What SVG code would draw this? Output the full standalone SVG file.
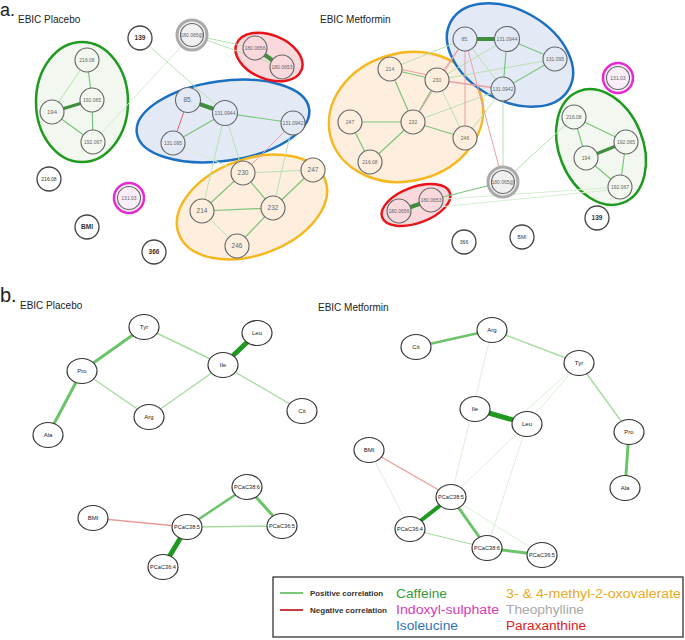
<svg xmlns="http://www.w3.org/2000/svg" width="685" height="640" viewBox="0 0 685 640">
<defs>
<style>
text{font-family:"Liberation Sans",Arial,sans-serif}
.hd{font-size:18px;fill:#222}
.ti{font-size:10px;fill:#222}
.n circle{fill:none;stroke:#666;stroke-width:1.1}
.n.cg circle{fill:#f2f8f0}
.n.cb circle{fill:#e3eaf6}
.n.co circle{fill:#fdeedd}
.n.cr circle{fill:#f9d9dc}
.n.iso circle{fill:#fff;stroke:#444;stroke-width:1.3}
.n text{font-size:5px;fill:#666;text-anchor:middle}
.n.iso text{font-size:6.5px;fill:#333;font-weight:bold}
.gr .ring{fill:#f0f0f0;stroke:#aaa;stroke-width:3}
.mg .ring{fill:#fbeefb;stroke:#e62ad2;stroke-width:2.5}
.b ellipse{fill:#fff;stroke:#333;stroke-width:1.2}
.b text{font-size:6px;fill:#222;text-anchor:middle}
.b text.s{font-size:5.6px}
.e line{stroke-linecap:round}
.l{stroke:#b9e1b3;stroke-width:1}
.vl{stroke:#d6eed2;stroke-width:1}
.m{stroke:#7cc47a;stroke-width:1.2}
.d{stroke:#3e8e3e;stroke-width:4}
.p{stroke:#eaa0a4;stroke-width:1}
.r{stroke:#e0606c;stroke-width:1}
.bl{stroke:#a6dca0;stroke-width:1.4}
.bm{stroke:#6cc46a;stroke-width:3}
.bd{stroke:#1f991f;stroke-width:5}
.bv{stroke:#dcf0d8;stroke-width:1}
.br{stroke:#ec9a9a;stroke-width:1.3}
.lg{font-size:12.5px}
.lt{font-size:6.8px;fill:#333;font-weight:bold}
</style>
</defs>
<rect width="685" height="640" fill="#fff"/>

<text class="hd" x="0" y="16">a.</text>
<text class="ti" x="18" y="23">EBIC Placebo</text>
<text class="ti" x="320" y="23">EBIC Metformin</text>
<text class="hd" x="0" y="302" style="font-size:20px">b.</text>
<text class="ti" x="20" y="309">EBIC Placebo</text>
<text class="ti" x="318" y="311">EBIC Metformin</text>

<g id="clusters">
<ellipse cx="82" cy="102" rx="46" ry="60" fill="#f2f8f0" stroke="#1e9a1e" stroke-width="2.5"/>
<ellipse cx="223" cy="121" rx="87" ry="40" transform="rotate(-8 223 121)" fill="#e3eaf6" stroke="#1c70c2" stroke-width="2.5"/>
<ellipse cx="252" cy="207" rx="78" ry="48" transform="rotate(-20 252 207)" fill="#fdeedd" stroke="#f5b820" stroke-width="2.5"/>
<ellipse cx="269" cy="57" rx="35" ry="22" transform="rotate(22 269 57)" fill="#f9d9dc" stroke="#e8141c" stroke-width="2.5"/>
<ellipse cx="406" cy="117" rx="78" ry="64" transform="rotate(-15 406 117)" fill="#fdeedd" stroke="#f5b820" stroke-width="2.5"/>
<ellipse cx="510" cy="55" rx="68" ry="45" transform="rotate(30 510 55)" fill="#e3eaf6" stroke="#1c70c2" stroke-width="2.5"/>
<ellipse cx="601" cy="147" rx="42" ry="60" transform="rotate(-22 601 147)" fill="#f2f8f0" stroke="#1e9a1e" stroke-width="2.5"/>
<ellipse cx="416" cy="205" rx="36" ry="18" transform="rotate(-20 416 205)" fill="#f9d9dc" stroke="#e8141c" stroke-width="2.5"/>
</g>

<g id="connectors" class="e">
<!-- panel a left -->
<line class="l" x1="87" y1="60" x2="52" y2="112"/>
<line class="m" x1="87" y1="60" x2="92" y2="100"/>
<line class="d" x1="52" y1="112" x2="92" y2="100" style="stroke-width:3"/>
<line class="m" x1="52" y1="112" x2="93" y2="142"/>
<line class="m" x1="92" y1="100" x2="93" y2="142"/>
<line class="vl" x1="192" y1="35" x2="93" y2="142"/>
<line class="l" x1="140" y1="38" x2="225" y2="113"/>
<line class="l" x1="192" y1="35" x2="255" y2="48"/>
<line class="l" x1="192" y1="35" x2="282" y2="67"/>
<line class="d" x1="255" y1="48" x2="282" y2="67"/>
<line class="d" x1="188" y1="100" x2="225" y2="113"/>
<line class="r" x1="188" y1="100" x2="173" y2="143"/>
<line class="m" x1="173" y1="143" x2="225" y2="113"/>
<line class="m" x1="225" y1="113" x2="293" y2="123"/>
<line class="l" x1="225" y1="113" x2="243" y2="173"/>
<line class="l" x1="225" y1="113" x2="202" y2="211"/>
<line class="vl" x1="173" y1="143" x2="243" y2="173"/>
<line class="p" x1="293" y1="123" x2="243" y2="173"/>
<line class="l" x1="293" y1="123" x2="273" y2="208"/>
<line class="l" x1="243" y1="173" x2="313" y2="170"/>
<line class="m" x1="243" y1="173" x2="273" y2="208"/>
<line class="m" x1="243" y1="173" x2="202" y2="211"/>
<line class="m" x1="202" y1="211" x2="273" y2="208"/>
<line class="l" x1="202" y1="211" x2="237" y2="246"/>
<line class="m" x1="237" y1="246" x2="273" y2="208"/>
<line class="m" x1="313" y1="170" x2="273" y2="208"/>
<!-- panel a right -->
<line class="m" x1="390" y1="69" x2="437" y2="80"/>
<line class="p" x1="390" y1="67" x2="437" y2="77"/>
<line class="m" x1="390" y1="69" x2="413" y2="122"/>
<line class="m" x1="437" y1="80" x2="413" y2="122"/>
<line class="m" x1="413" y1="122" x2="350" y2="122"/>
<line class="m" x1="350" y1="122" x2="370" y2="162"/>
<line class="m" x1="370" y1="162" x2="413" y2="122"/>
<line class="m" x1="413" y1="122" x2="465" y2="138"/>
<line class="l" x1="437" y1="80" x2="465" y2="138"/>
<line class="l" x1="390" y1="69" x2="465" y2="39"/>
<line class="p" x1="437" y1="80" x2="465" y2="39"/>
<line class="p" x1="437" y1="80" x2="503" y2="89" style="stroke-width:1.6"/>
<line class="l" x1="437" y1="80" x2="507" y2="39"/>
<line class="l" x1="437" y1="80" x2="555" y2="59"/>
<line class="l" x1="413" y1="122" x2="503" y2="89"/>
<line class="p" x1="413" y1="122" x2="465" y2="39"/>
<line class="p" x1="465" y1="138" x2="465" y2="39"/>
<line class="l" x1="465" y1="138" x2="503" y2="89"/>
<line class="d" x1="465" y1="39" x2="507" y2="39"/>
<line class="m" x1="507" y1="39" x2="555" y2="59"/>
<line class="m" x1="507" y1="39" x2="503" y2="89"/>
<line class="m" x1="555" y1="59" x2="503" y2="89"/>
<line class="l" x1="465" y1="39" x2="503" y2="89"/>
<line class="l" x1="503" y1="89" x2="503" y2="182"/>
<line class="p" x1="465" y1="39" x2="503" y2="182"/>
<line class="l" x1="503" y1="182" x2="574" y2="117"/>
<line class="m" x1="503" y1="182" x2="431" y2="200"/>
<line class="d" x1="431" y1="200" x2="399" y2="211"/>
<line class="vl" x1="431" y1="200" x2="620" y2="187"/>
<line class="vl" x1="399" y1="211" x2="620" y2="189"/>
<line class="m" x1="574" y1="117" x2="586" y2="158"/>
<line class="m" x1="574" y1="117" x2="626" y2="142"/>
<line class="d" x1="586" y1="158" x2="626" y2="142" style="stroke-width:3"/>
<line class="m" x1="586" y1="158" x2="620" y2="187"/>
<line class="m" x1="626" y1="142" x2="620" y2="187"/>
<!-- panel b left -->
<line class="bm" x1="144" y1="327" x2="82" y2="371"/>
<line class="bm" x1="82" y1="371" x2="48" y2="435"/>
<line class="bl" x1="144" y1="327" x2="223" y2="365"/>
<line class="bd" x1="257" y1="333" x2="223" y2="365"/>
<line class="bl" x1="82" y1="371" x2="149" y2="417"/>
<line class="bl" x1="149" y1="417" x2="223" y2="365"/>
<line class="bl" x1="223" y1="365" x2="302" y2="411"/>
<line class="br" x1="93" y1="518" x2="187" y2="527"/>
<line class="bm" x1="187" y1="527" x2="247" y2="487" style="stroke-width:2.5"/>
<line class="bm" x1="247" y1="487" x2="282" y2="526"/>
<line class="bl" x1="187" y1="527" x2="282" y2="526"/>
<line class="bd" x1="187" y1="527" x2="163" y2="567"/>
<!-- panel b right -->
<line class="bm" x1="416" y1="347" x2="492" y2="330" style="stroke-width:2.5"/>
<line class="bl" x1="492" y1="330" x2="579" y2="363"/>
<line class="bl" x1="579" y1="363" x2="629" y2="432"/>
<line class="bm" x1="629" y1="432" x2="625" y2="488"/>
<line class="bd" x1="475" y1="409" x2="527" y2="424"/>
<line class="bv" x1="492" y1="330" x2="451" y2="497"/>
<line class="bv" x1="579" y1="363" x2="527" y2="424"/>
<line class="bv" x1="579" y1="363" x2="520" y2="416"/>
<line class="bv" x1="527" y1="424" x2="451" y2="497"/>
<line class="bv" x1="527" y1="424" x2="487" y2="548"/>
<line class="br" x1="369" y1="450" x2="451" y2="497"/>
<line class="bv" x1="369" y1="450" x2="410" y2="529"/>
<line class="bd" x1="451" y1="497" x2="410" y2="529" style="stroke-width:4"/>
<line class="bm" x1="451" y1="497" x2="487" y2="548"/>
<line class="bv" x1="451" y1="497" x2="542" y2="555"/>
<line class="bl" x1="410" y1="529" x2="487" y2="548" style="stroke-width:1.1"/>
<line class="bm" x1="487" y1="548" x2="542" y2="555"/>
</g>

<!-- panel a left nodes -->
<g id="pL_216_08" class="n cg"><circle cx="87" cy="60" r="12"/><text x="87" y="61.8">216.08</text></g>
<g id="pL_192_065" class="n cg"><circle cx="92" cy="100" r="12"/><text x="92" y="101.8">192.065</text></g>
<g id="pL_194" class="n cg"><circle cx="52" cy="112" r="12"/><text x="52" y="113.8" style="font-size:6px">194</text></g>
<g id="pL_192_067" class="n cg"><circle cx="93" cy="142" r="12"/><text x="93" y="143.8">192.067</text></g>
<g id="pL_139" class="n iso"><circle cx="140" cy="38" r="12"/><text x="140" y="40.3">139</text></g>
<g id="pL_180_065" class="n gr"><circle class="ring" cx="192" cy="35" r="15"/><circle cx="192" cy="35" r="11.5"/><text x="192" y="36.8">180.065@</text></g>
<g id="pL_180_0656" class="n cr"><circle cx="255" cy="48" r="12"/><text x="255" y="49.8">180.0656</text></g>
<g id="pL_180_0653" class="n cr"><circle cx="282" cy="67" r="12"/><text x="282" y="68.8">180.0653</text></g>
<g id="pL_85" class="n cb"><circle cx="188" cy="100" r="12.5"/><text x="188" y="102" style="font-size:6.5px">85.</text></g>
<g id="pL_131_0944" class="n cb"><circle cx="225" cy="113" r="12.5"/><text x="225" y="114.8">131.0944</text></g>
<g id="pL_131_0942" class="n cb"><circle cx="293" cy="123" r="12"/><text x="293" y="124.8">131.0942</text></g>
<g id="pL_131_095" class="n cb"><circle cx="173" cy="143" r="12"/><text x="173" y="144.8">131.095</text></g>
<g id="pL_230" class="n co"><circle cx="243" cy="173" r="12"/><text x="243" y="175" style="font-size:6.5px">230</text></g>
<g id="pL_247" class="n co"><circle cx="313" cy="170" r="12"/><text x="313" y="172" style="font-size:6.5px">247</text></g>
<g id="pL_232" class="n co"><circle cx="273" cy="208" r="12"/><text x="273" y="210" style="font-size:6.5px">232</text></g>
<g id="pL_214" class="n co"><circle cx="202" cy="211" r="12"/><text x="202" y="213" style="font-size:6.5px">214</text></g>
<g id="pL_246" class="n co"><circle cx="237" cy="246" r="12"/><text x="237" y="248" style="font-size:6.5px">246</text></g>
<g id="pL_216_08b" class="n iso"><circle cx="49" cy="179" r="12"/><text x="49" y="180.8" style="font-size:5px;font-weight:normal">216.08</text></g>
<g id="pL_131_03" class="n mg"><circle class="ring" cx="129" cy="198" r="15"/><circle cx="129" cy="198" r="11.5"/><text x="129" y="199.8">131.03</text></g>
<g id="pL_BMI" class="n iso"><circle cx="87" cy="227" r="12"/><text x="87" y="229.3">BMI</text></g>
<g id="pL_366" class="n iso"><circle cx="154" cy="252" r="12"/><text x="154" y="254.3">366</text></g>

<!-- panel a right nodes -->
<g id="pR_214" class="n co"><circle cx="390" cy="69" r="12"/><text x="390" y="70.8">214</text></g>
<g id="pR_230" class="n co"><circle cx="437" cy="80" r="12"/><text x="437" y="81.8">230</text></g>
<g id="pR_232" class="n co"><circle cx="413" cy="122" r="12"/><text x="413" y="123.8">232</text></g>
<g id="pR_247" class="n co"><circle cx="350" cy="122" r="12"/><text x="350" y="123.8">247</text></g>
<g id="pR_246" class="n co"><circle cx="465" cy="138" r="12"/><text x="465" y="139.8">246</text></g>
<g id="pR_216_08" class="n co"><circle cx="370" cy="162" r="12"/><text x="370" y="163.8">216.08</text></g>
<g id="pR_85" class="n cb"><circle cx="465" cy="39" r="12"/><text x="465" y="40.8">85.</text></g>
<g id="pR_131_0944" class="n cb"><circle cx="507" cy="39" r="12.5"/><text x="507" y="40.8">131.0944</text></g>
<g id="pR_131_095" class="n cb"><circle cx="555" cy="59" r="12"/><text x="555" y="60.8">131.095</text></g>
<g id="pR_131_0942" class="n cb"><circle cx="503" cy="89" r="12"/><text x="503" y="90.8">131.0942</text></g>
<g id="pR_131_03" class="n mg"><circle class="ring" cx="618" cy="78" r="15"/><circle cx="618" cy="78" r="11.5"/><text x="618" y="79.8">131.03</text></g>
<g id="pR_G216_08" class="n cg"><circle cx="574" cy="117" r="12"/><text x="574" y="118.8">216.08</text></g>
<g id="pR_192_065" class="n cg"><circle cx="626" cy="142" r="12"/><text x="626" y="143.8">192.065</text></g>
<g id="pR_194" class="n cg"><circle cx="586" cy="158" r="12"/><text x="586" y="159.8">194</text></g>
<g id="pR_192_067" class="n cg"><circle cx="620" cy="187" r="12"/><text x="620" y="188.8">192.067</text></g>
<g id="pR_180_065" class="n gr"><circle class="ring" cx="503" cy="182" r="15"/><circle cx="503" cy="182" r="11.5"/><text x="503" y="183.8">180.065@</text></g>
<g id="pR_180_0656" class="n cr"><circle cx="399" cy="211" r="12"/><text x="399" y="212.8">180.0656</text></g>
<g id="pR_180_0653" class="n cr"><circle cx="431" cy="200" r="12"/><text x="431" y="201.8">180.0653</text></g>
<g id="pR_366" class="n iso"><circle cx="464" cy="242" r="12"/><text x="464" y="243.8" style="font-size:5px;font-weight:normal">366</text></g>
<g id="pR_BMI" class="n iso"><circle cx="522" cy="237" r="12"/><text x="522" y="238.8" style="font-size:5px;font-weight:normal">BMI</text></g>
<g id="pR_139" class="n iso"><circle cx="597" cy="218" r="12"/><text x="597" y="220.3">139</text></g>

<!-- panel b left nodes -->
<g id="bL_Tyr" class="b"><ellipse cx="144" cy="327" rx="15" ry="12.5"/><text x="144" y="329">Tyr</text></g>
<g id="bL_Leu" class="b"><ellipse cx="257" cy="333" rx="15" ry="12.5"/><text x="257" y="335">Leu</text></g>
<g id="bL_Pro" class="b"><ellipse cx="82" cy="371" rx="15" ry="12.5"/><text x="82" y="373">Pro</text></g>
<g id="bL_Ile" class="b"><ellipse cx="223" cy="365" rx="15" ry="12.5"/><text x="223" y="367">Ile</text></g>
<g id="bL_Arg" class="b"><ellipse cx="149" cy="417" rx="15" ry="12.5"/><text x="149" y="419">Arg</text></g>
<g id="bL_Cit" class="b"><ellipse cx="302" cy="411" rx="15" ry="12.5"/><text x="302" y="413">Cit</text></g>
<g id="bL_Ala" class="b"><ellipse cx="48" cy="435" rx="15" ry="12.5"/><text x="48" y="437">Ala</text></g>
<g id="bL_PCaC38_6" class="b"><ellipse cx="247" cy="487" rx="15" ry="12.5"/><text class="s" x="247" y="489">PCaC38:6</text></g>
<g id="bL_BMI" class="b"><ellipse cx="93" cy="518" rx="15" ry="12.5"/><text x="93" y="520">BMI</text></g>
<g id="bL_PCaC38_5" class="b"><ellipse cx="187" cy="527" rx="15" ry="12.5"/><text class="s" x="187" y="529">PCaC38:5</text></g>
<g id="bL_PCaC36_5" class="b"><ellipse cx="282" cy="526" rx="15" ry="12.5"/><text class="s" x="282" y="528">PCaC36:5</text></g>
<g id="bL_PCaC36_4" class="b"><ellipse cx="163" cy="567" rx="15" ry="12.5"/><text class="s" x="163" y="569">PCaC36:4</text></g>

<!-- panel b right nodes -->
<g id="bR_Arg" class="b"><ellipse cx="492" cy="330" rx="15" ry="12.5"/><text x="492" y="332">Arg</text></g>
<g id="bR_Cit" class="b"><ellipse cx="416" cy="347" rx="15" ry="12.5"/><text x="416" y="349">Cit</text></g>
<g id="bR_Tyr" class="b"><ellipse cx="579" cy="363" rx="15" ry="12.5"/><text x="579" y="365">Tyr</text></g>
<g id="bR_Ile" class="b"><ellipse cx="475" cy="409" rx="15" ry="12.5"/><text x="475" y="411">Ile</text></g>
<g id="bR_Leu" class="b"><ellipse cx="527" cy="424" rx="15" ry="12.5"/><text x="527" y="426">Leu</text></g>
<g id="bR_Pro" class="b"><ellipse cx="629" cy="432" rx="15" ry="12.5"/><text x="629" y="434">Pro</text></g>
<g id="bR_BMI" class="b"><ellipse cx="369" cy="450" rx="15" ry="12.5"/><text x="369" y="452">BMI</text></g>
<g id="bR_Ala" class="b"><ellipse cx="625" cy="488" rx="15" ry="12.5"/><text x="625" y="490">Ala</text></g>
<g id="bR_PCaC38_5" class="b"><ellipse cx="451" cy="497" rx="15" ry="12.5"/><text class="s" x="451" y="499">PCaC38:5</text></g>
<g id="bR_PCaC36_4" class="b"><ellipse cx="410" cy="529" rx="15" ry="12.5"/><text class="s" x="410" y="531">PCaC36:4</text></g>
<g id="bR_PCaC38_6" class="b"><ellipse cx="487" cy="548" rx="15" ry="12.5"/><text class="s" x="487" y="550">PCaC38:6</text></g>
<g id="bR_PCaC36_5" class="b"><ellipse cx="542" cy="555" rx="15" ry="12.5"/><text class="s" x="542" y="557">PCaC36:5</text></g>

<g id="legend">
<rect x="273" y="577" width="410" height="60" fill="#fff" stroke="#333" stroke-width="1.3"/>
<line x1="280" y1="593" x2="303" y2="593" stroke="#6cc46a" stroke-width="1.8"/>
<line x1="280" y1="610" x2="303" y2="610" stroke="#c0282c" stroke-width="1.8"/>
<text class="lt" x="310" y="595.5" textLength="73" lengthAdjust="spacingAndGlyphs">Positive correlation</text>
<text class="lt" x="310" y="612.5" textLength="77" lengthAdjust="spacingAndGlyphs">Negative correlation</text>
<text class="lg" x="396" y="598" fill="#3a9a3a" textLength="51" lengthAdjust="spacingAndGlyphs">Caffeine</text>
<text class="lg" x="396" y="614" fill="#d63cb8" textLength="103" lengthAdjust="spacingAndGlyphs">Indoxyl-sulphate</text>
<text class="lg" x="396" y="630" fill="#2e75b6" textLength="62" lengthAdjust="spacingAndGlyphs">Isoleucine</text>
<text class="lg" x="506" y="598" fill="#eaaa22" textLength="175" lengthAdjust="spacingAndGlyphs">3- &amp; 4-methyl-2-oxovalerate</text>
<text class="lg" x="506" y="614" fill="#a8a8a8" textLength="78" lengthAdjust="spacingAndGlyphs">Theophylline</text>
<text class="lg" x="506" y="630" fill="#e02020" textLength="80" lengthAdjust="spacingAndGlyphs">Paraxanthine</text>
</g>
</svg>
